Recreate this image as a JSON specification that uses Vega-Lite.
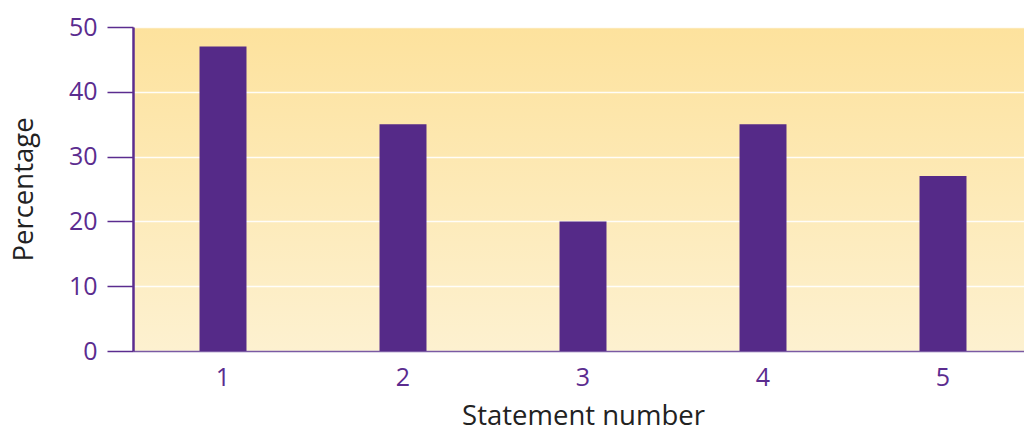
{
  "$schema": "https://vega.github.io/schema/vega-lite/v6.json",
  "width": 900,
  "height": 324,
  "autosize": {"type": "none"},
  "padding": {"left": 133, "top": 27, "right": 0, "bottom": 81},
  "background": "white",
  "config": {
    "view": {
      "stroke": null,
      "fill": {"gradient": "linear", "x1": 0, "y1": 0, "x2": 0, "y2": 1,
        "stops": [{"offset": 0, "color": "#FDE29D"}, {"offset": 1, "color": "#FDF1D0"}]}
    },
    "font": "Open Sans"
  },
  "data": {
    "values": [
      {"statement": "1", "percentage": 47},
      {"statement": "2", "percentage": 35},
      {"statement": "3", "percentage": 20},
      {"statement": "4", "percentage": 35},
      {"statement": "5", "percentage": 27}
    ]
  },
  "mark": {"type": "bar", "color": "#552A88"},
  "encoding": {
    "x": {
      "field": "statement", "type": "ordinal",
      "scale": {"paddingInner": 0.739, "paddingOuter": 0.3695},
      "axis": {
        "title": "Statement number", "titleFontSize": 27.5, "titleFontWeight": "normal",
        "titleColor": "#222222", "titlePadding": 12,
        "labelAngle": 0, "labelFontSize": 25, "labelColor": "#5B2C8F", "labelPadding": 14,
        "ticks": false, "domainColor": "#7A5AA3", "domainWidth": 1.5, "grid": false
      }
    },
    "y": {
      "field": "percentage", "type": "quantitative",
      "scale": {"domain": [0, 50]},
      "axis": {
        "title": "Percentage", "titleFontSize": 27.5, "titleFontWeight": "normal",
        "titleColor": "#222222", "titlePadding": 30,
        "values": [0, 10, 20, 30, 40, 50],
        "labelFontSize": 25, "labelColor": "#5B2C8F", "labelPadding": 10,
        "tickSize": 26, "tickColor": "#5B2C8F", "tickWidth": 1.5,
        "domainColor": "#5B2C8F", "domainWidth": 2.5,
        "grid": true, "gridColor": "#FFFFFF", "gridWidth": 1.5, "gridOpacity": 0.9
      }
    }
  }
}
